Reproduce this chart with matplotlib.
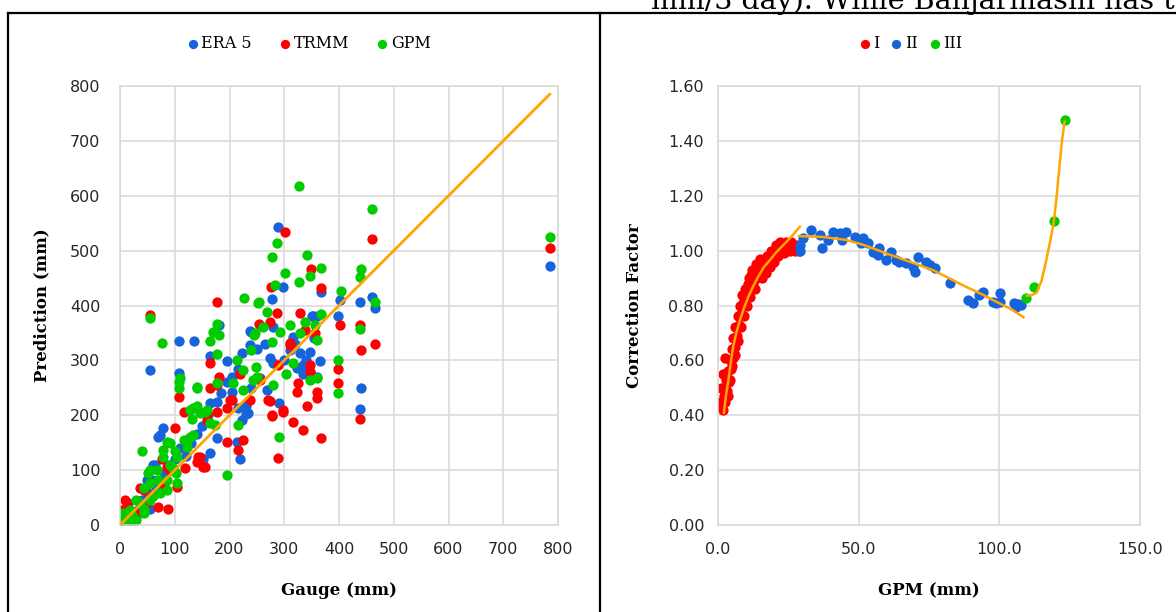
import matplotlib
matplotlib.use("Agg")
import matplotlib.pyplot as plt
from matplotlib.lines import Line2D
from matplotlib.ticker import MultipleLocator, FormatStrFormatter

# ---- left panel: gauge vs prediction (mm) ----
era5 = [(785, 472), (288, 543), (460, 416), (466, 396), (438, 407), (402, 410), (399, 381),
        (367, 425), (359, 380), (353, 381), (298, 433), (277, 412), (240, 352), (237, 354),
        (180, 364), (164, 308), (195, 298), (108, 335), (135, 335), (55, 282), (108, 277),
        (280, 361), (316, 343), (350, 380), (274, 304), (280, 295), (329, 313), (347, 316),
        (365, 298), (335, 292), (323, 286), (347, 279), (359, 270), (335, 276), (441, 249),
        (438, 211), (222, 313), (237, 328), (231, 216), (231, 203), (290, 222), (219, 120),
        (213, 152), (216, 213), (234, 204), (222, 191), (177, 158), (164, 131), (164, 222),
        (177, 225), (152, 121), (79, 176), (70, 161), (73, 164), (64, 109), (58, 82), (61, 109),
        (49, 82), (55, 30), (0, 21), (12, 33), (240, 249), (256, 267), (204, 243), (268, 246),
        (10, 10), (20, 25), (30, 15), (40, 45), (25, 5), (5, 2), (15, 40), (35, 30), (50, 60),
        (65, 70), (80, 95), (90, 110), (100, 120), (110, 140), (120, 125), (130, 150),
        (140, 165), (150, 180), (160, 200), (185, 240), (195, 260), (205, 270), (215, 285),
        (250, 320), (265, 330), (300, 300), (310, 318), (320, 330), (340, 300), (355, 340)]

trmm = [(785, 505), (460, 521), (465, 330), (441, 318), (438, 364), (438, 193), (399, 285),
        (399, 258), (402, 364), (367, 431), (367, 158), (359, 243), (359, 231), (341, 217),
        (316, 188), (335, 173), (298, 210), (277, 199), (289, 123), (323, 243), (326, 258),
        (274, 226), (301, 534), (349, 466), (276, 434), (329, 387), (253, 367), (274, 370),
        (286, 386), (310, 331), (338, 355), (356, 349), (289, 292), (347, 292), (347, 279),
        (310, 328), (177, 407), (55, 383), (164, 295), (180, 270), (177, 255), (164, 249),
        (108, 234), (117, 206), (158, 191), (177, 206), (158, 203), (195, 213), (204, 228),
        (256, 264), (271, 228), (277, 200), (298, 206), (100, 176), (76, 121), (195, 152),
        (225, 155), (216, 137), (143, 124), (140, 115), (155, 106), (119, 103), (104, 70),
        (88, 30), (43, 64), (9, 46), (0, 27), (146, 124), (152, 106), (85, 106), (91, 100),
        (37, 67), (70, 33), (12, 36), (6, 15), (219, 276), (237, 228), (201, 228),
        (20, 10), (30, 20), (45, 35), (15, 5), (60, 55), (80, 75), (120, 150)]

gpm = [(785, 525), (327, 618), (460, 575), (287, 513), (277, 489), (341, 492), (301, 460),
       (347, 454), (367, 469), (327, 443), (283, 437), (254, 407), (227, 413), (252, 405),
       (403, 427), (441, 466), (438, 452), (466, 407), (367, 384), (438, 358), (399, 301),
       (399, 241), (55, 378), (76, 332), (164, 335), (177, 366), (170, 352), (180, 347),
       (245, 347), (247, 349), (262, 361), (268, 389), (277, 334), (292, 352), (310, 364),
       (329, 349), (338, 370), (356, 364), (359, 337), (316, 295), (347, 264), (359, 267),
       (290, 161), (195, 91), (108, 261), (108, 249), (141, 250), (177, 312), (177, 259),
       (134, 214), (155, 206), (131, 194), (40, 135), (91, 149), (79, 137), (122, 155),
       (134, 164), (122, 143), (104, 124), (91, 109), (52, 94), (67, 100), (55, 76), (73, 58),
       (85, 64), (104, 76), (61, 52), (37, 40), (18, 27), (6, 21), (0, 6), (30, 9), (43, 21),
       (213, 301), (225, 282), (240, 319), (207, 258), (225, 246), (243, 264), (249, 288),
       (216, 182), (110, 267), (140, 252), (304, 276), (280, 255), (250, 270), (158, 210),
       (140, 216), (128, 210), (164, 185), (173, 182), (146, 204), (116, 155), (128, 161),
       (85, 152), (100, 134), (79, 124), (97, 103), (55, 100), (85, 82), (70, 82), (103, 94),
       (43, 67), (30, 46), (43, 30), (21, 21), (12, 6), (0, 15), (0, 3), (24, 15), (55, 46)]

one_to_one = [0, 785]

# ---- right panel: GPM vs correction factor ----
grp1 = [(0.8, 0.43), (1.2, 0.45), (1.6, 0.42), (2.0, 0.47), (2.3, 0.50), (2.6, 0.45),
        (3.0, 0.53), (3.2, 0.49), (3.6, 0.56), (3.9, 0.52), (4.2, 0.60), (4.5, 0.57),
        (4.8, 0.64), (5.2, 0.61), (5.5, 0.68), (5.9, 0.65), (6.2, 0.72), (6.6, 0.69),
        (7.0, 0.76), (7.4, 0.73), (7.8, 0.80), (8.2, 0.77), (8.6, 0.84), (9.0, 0.81),
        (9.5, 0.86), (10.0, 0.84), (10.6, 0.88), (11.2, 0.86), (11.8, 0.91), (12.4, 0.88),
        (13.0, 0.93), (13.8, 0.90), (14.5, 0.94), (15.3, 0.93), (16.0, 0.96), (16.8, 0.95),
        (17.5, 0.98), (18.3, 0.97), (19.0, 1.00), (19.8, 0.99), (20.5, 1.02), (21.3, 1.00),
        (22.0, 1.03), (23.0, 1.01), (24.0, 1.03), (25.0, 1.02), (26.0, 1.03), (27.0, 1.01),
        (28.0, 1.02), (28.8, 1.00),
        (1.0, 0.50), (1.8, 0.55), (2.6, 0.61), (3.5, 0.47), (4.3, 0.53), (5.0, 0.58),
        (6.0, 0.62), (7.0, 0.67), (8.0, 0.72), (9.2, 0.76), (10.4, 0.80), (11.0, 0.90),
        (11.5, 0.83), (12.0, 0.93), (13.0, 0.86), (13.5, 0.95), (14.0, 0.91), (15.0, 0.97),
        (15.5, 0.90), (17.0, 0.92), (18.5, 0.94), (20.0, 0.96), (21.5, 0.98), (23.5, 0.99),
        (25.5, 1.00), (27.5, 1.00)]
grp2 = [(29.1, 1.02), (29.3, 1.00), (30.3, 1.045), (33.2, 1.075), (36.2, 1.057), (36.8, 1.008),
        (39.1, 1.039), (40.9, 1.069), (43.3, 1.063), (43.9, 1.039), (45.6, 1.069), (48.6, 1.051),
        (51.0, 1.027), (51.5, 1.045), (53.3, 1.027), (55.1, 0.996), (56.8, 0.984), (57.4, 1.008),
        (59.8, 0.966), (61.6, 0.996), (63.4, 0.966), (64.5, 0.960), (66.9, 0.954), (69.3, 0.941),
        (69.9, 0.923), (71.0, 0.978), (74.0, 0.960), (75.2, 0.948), (77.0, 0.936), (82.3, 0.881),
        (88.8, 0.820), (90.6, 0.808), (92.9, 0.838), (94.1, 0.850), (97.6, 0.814), (98.8, 0.808),
        (100.1, 0.844), (100.1, 0.814), (105.3, 0.808), (105.9, 0.796), (106.6, 0.805),
        (107.7, 0.802)]
grp3 = [(109.4, 0.826), (112.2, 0.868), (119.3, 1.109), (123.2, 1.476)]

fit1 = [(2.1, 0.409), (2.8, 0.47), (3.7, 0.528), (4.5, 0.59), (5.4, 0.650), (6.5, 0.70),
        (7.8, 0.747), (9.2, 0.79), (10.8, 0.832), (12.5, 0.87), (14.3, 0.905), (16.3, 0.94),
        (18.5, 0.966), (20.8, 0.995), (23.2, 1.020), (26.0, 1.05), (29.1, 1.087)]
fit2 = [(28.8, 1.053), (37.0, 1.050), (45.6, 1.039), (52.0, 1.020), (59.8, 0.990),
        (68.0, 0.960), (76.4, 0.929), (82.0, 0.900), (88.2, 0.868), (94.0, 0.840),
        (100.0, 0.808), (104.5, 0.785), (108.6, 0.757)]
fit3 = [(109.8, 0.836), (111.5, 0.838), (113.2, 0.846), (115.0, 0.890), (116.7, 0.966),
        (118.0, 1.030), (119.3, 1.100), (120.2, 1.180), (120.9, 1.257), (121.6, 1.330),
        (122.3, 1.403), (123.2, 1.470)]

BLUE = '#1763DC'
RED = '#FF0000'
GREEN = '#00CC00'
ORANGE = '#FFA500'
GRID = '#D9D9D9'
TICK = '#262626'

W, H = 1176, 612
fig = plt.figure(figsize=(W / 100, H / 100), dpi=100)


def px_box(x0, x1, y0, y1):
    return [x0 / W, 1 - y1 / H, (x1 - x0) / W, (y1 - y0) / H]


def style(ax):
    ax.grid(True, color=GRID, linewidth=1.1)
    ax.set_axisbelow(True)
    for s in ax.spines.values():
        s.set_color(GRID)
        s.set_linewidth(1.1)
    ax.tick_params(length=0, labelsize=11.5, labelcolor=TICK)


ax1 = fig.add_axes(px_box(120, 558, 86, 525))
style(ax1)
ms = 55
for pts, c, lab in [(era5, BLUE, 'ERA 5'), (trmm, RED, 'TRMM'), (gpm, GREEN, 'GPM')]:
    ax1.scatter([p[0] for p in pts], [p[1] for p in pts], s=ms, color=c, label=lab,
                linewidths=0, zorder=2)
ax1.plot(one_to_one, one_to_one, color=ORANGE, linewidth=2, zorder=3)
ax1.set_xlim(0, 800)
ax1.set_ylim(0, 800)
ax1.xaxis.set_major_locator(MultipleLocator(100))
ax1.yaxis.set_major_locator(MultipleLocator(100))
ax1.tick_params(axis='y', pad=14)
ax1.tick_params(axis='x', pad=12)
ax1.set_xlabel('Gauge (mm)', family='DejaVu Serif', fontweight='bold', fontsize=12)
ax1.set_ylabel('Prediction (mm)', family='DejaVu Serif', fontweight='bold', fontsize=12)
ax1.xaxis.set_label_coords(0.5, -0.13)
ax1.yaxis.set_label_coords(-0.16, 0.5)
h1, l1 = ax1.get_legend_handles_labels()
fig.legend(h1, l1, loc='center', bbox_to_anchor=(308 / W, 1 - 44 / H), ncol=3,
           frameon=False, handletextpad=0.1, handlelength=0.9, columnspacing=1.6,
           markerscale=0.9, prop={'family': 'DejaVu Serif', 'size': 11.5})

ax2 = fig.add_axes(px_box(718, 1140, 86, 525))
style(ax2)
for pts, c, lab in [(grp1, RED, 'I'), (grp2, BLUE, 'II'), (grp3, GREEN, 'III')]:
    ax2.scatter([p[0] for p in pts], [p[1] for p in pts], s=ms, color=c, label=lab,
                linewidths=0, zorder=2)
for f in (fit1, fit2, fit3):
    ax2.plot([p[0] for p in f], [p[1] for p in f], color=ORANGE, linewidth=1.8, zorder=3)
ax2.set_xlim(0, 150)
ax2.set_ylim(0, 1.6)
ax2.xaxis.set_major_locator(MultipleLocator(50))
ax2.yaxis.set_major_locator(MultipleLocator(0.2))
ax2.xaxis.set_major_formatter(FormatStrFormatter('%.1f'))
ax2.yaxis.set_major_formatter(FormatStrFormatter('%.2f'))
ax2.tick_params(axis='y', pad=10)
ax2.tick_params(axis='x', pad=12)
ax2.set_xlabel('GPM (mm)', family='DejaVu Serif', fontweight='bold', fontsize=12)
ax2.set_ylabel('Correction Factor', family='DejaVu Serif', fontweight='bold', fontsize=12)
ax2.xaxis.set_label_coords(0.5, -0.13)
ax2.yaxis.set_label_coords(-0.178, 0.5)
h2, l2 = ax2.get_legend_handles_labels()
fig.legend(h2, l2, loc='center', bbox_to_anchor=(910 / W, 1 - 44 / H), ncol=3,
           frameon=False, handletextpad=0.1, handlelength=0.9, columnspacing=0.6,
           markerscale=0.9, prop={'family': 'DejaVu Serif', 'size': 11.5})

# panel frames
for xs, ys in [([8, 8], [13, H]), ([8, W], [13, 13]), ([600, 600], [13, H])]:
    fig.add_artist(Line2D([x / W for x in xs], [1 - y / H for y in ys],
                          color='black', linewidth=1.6))

# clipped line of body text above the figure
fig.text(651 / W, 1 - 9 / H, 'mm/3 day). While Banjarmasin has t', fontsize=20.5,
         family='DejaVu Serif', va='baseline', ha='left')

fig.savefig('out.png', dpi=100)
